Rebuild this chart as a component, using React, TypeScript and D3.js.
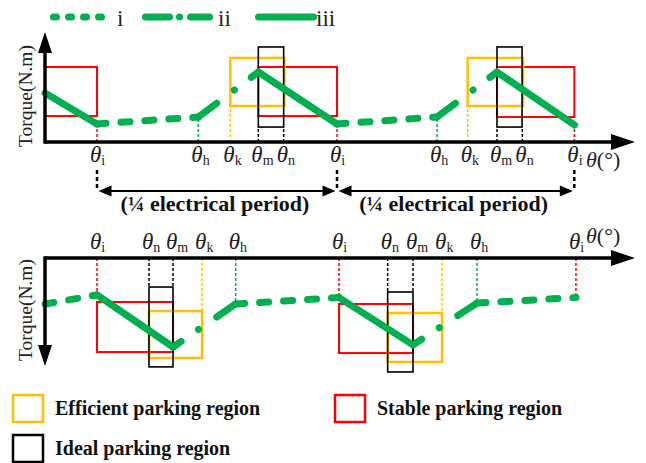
import React from "react";
import * as d3 from "d3";

// ---------- data ----------
const topTickLabels = ["i", "h", "k", "m", "n", "i", "h", "k", "m", "n", "i"];
const topTickDeg = [0, 38, 50, 60.5, 70, 90, 127.5, 139, 150, 159.5, 179];
const topGuideEnd = [1.64, 2.27, 3.27, 1.36, 1.36, 1.64, 2.27, 3.27, 1.36, 1.36, 1.55];

const bottomTickLabels = ["i", "n", "m", "k", "h", "i", "n", "m", "k", "h", "i"];
const bottomTickDeg = [0, 19.5, 28.5, 39.4, 52, 90.75, 109, 118.5, 129.4, 142.5, 179.6];
const bottomGuideEnd = [-3.36, -2.64, -2.64, -4.82, -4.18, -3.6, -3.09, -3.09, -5.0, -4.1, -3.6];

const topCurveDeg = [-19.5, 0, 38, 60.5, 90, 127.5, 150, 179];
const topCurveTorque = [4.45, 1.64, 2.27, 6.36, 1.64, 2.27, 6.36, 1.55];
const topSegType = ["iii", "i", "ii", "iii", "i", "ii", "iii"];

const bottomCurveDeg = [-19.5, 0, 28.5, 52, 90.75, 118.5, 142.5, 179.6];
const bottomCurveTorque = [-4.18, -3.36, -8.09, -4.18, -3.6, -7.9, -4.1, -3.6];
const bottomSegType = ["i", "iii", "ii", "i", "iii", "ii", "i"];

// boxes: [deg0, deg1, torqueA, torqueB]
const topRedBoxes = [[-19.5, 0, 6.82, 2.36], [60.5, 90, 6.82, 2.36], [150, 179, 6.82, 2.27]];
const topYellowBoxes = [[50, 70.3, 7.64, 3.27], [139, 159.8, 7.64, 3.27]];
const topBlackBoxes = [[60.5, 70, 8.64, 1.36], [150, 159.4, 8.64, 1.36]];

const bottomRedBoxes = [[0, 28.5, -4.0, -8.55], [90.75, 118.5, -4.18, -8.64]];
const bottomYellowBoxes = [[19.5, 39.4, -4.82, -9.09], [109, 129.4, -5.0, -9.45]];
const bottomBlackBoxes = [[19.5, 28.5, -2.64, -9.9], [109, 118.5, -3.09, -10.36]];

const periodSpans = [[0, 90], [90, 179]];
const periodLabel = "(¼ electrical period)";
const legendLines = ["i", "ii", "iii"];
const legendBoxes = ["Efficient parking region", "Stable parking region", "Ideal parking region"];

// ---------- style ----------
const GREEN = "#00b050";
const RED = "#ff0000";
const ORANGE = "#ffc000";
const SERIF = "'Liberation Serif', 'Times New Roman', serif";
const tickColor: Record<string, string> = { i: RED, h: GREEN, k: ORANGE, m: "#000", n: "#000" };

const x = d3.scaleLinear().domain([0, 90]).range([97, 337]);
const yTop = d3.scaleLinear().domain([0, 10]).range([142, 32]);
const yBot = d3.scaleLinear().domain([0, -10]).range([258, 368]);
const line = d3.line<[number, number]>();

function segDash(t: string) {
  if (t === "i") return "9,15";
  if (t === "ii") return "23,22,0.1,21,60";
  return undefined;
}

function Curve({ degs, vals, types, y }: { degs: number[]; vals: number[]; types: string[]; y: any }) {
  return (
    <g>
      {types.map((t, i) => {
        let p0: [number, number] = [x(degs[i]), y(vals[i])];
        let p1: [number, number] = [x(degs[i + 1]), y(vals[i + 1])];
        // dash-dot segments start from the theta_h end (smaller |torque|)
        if (t === "ii" && Math.abs(vals[i]) > Math.abs(vals[i + 1])) {
          const tmp = p0; p0 = p1; p1 = tmp;
        }
        return (
          <path key={i} d={line([p0, p1]) || ""} fill="none" stroke={GREEN} strokeWidth={7}
            strokeLinecap="round" strokeDasharray={segDash(t)} />
        );
      })}
    </g>
  );
}

function Boxes({ boxes, color, width, y }: { boxes: number[][]; color: string; width: number; y: any }) {
  return (
    <g>
      {boxes.map((b, i) => {
        const x0 = x(b[0]), x1 = x(b[1]);
        const ya = y(b[2]), yb = y(b[3]);
        return (
          <rect key={i} x={Math.min(x0, x1)} y={Math.min(ya, yb)} width={Math.abs(x1 - x0)}
            height={Math.abs(yb - ya)} fill="none" stroke={color} strokeWidth={width} />
        );
      })}
    </g>
  );
}

function TickLabel({ xp, yp, sub }: { xp: number; yp: number; sub: string }) {
  return (
    <text x={xp - 7} y={yp} fontFamily={SERIF} fontSize={23} fill="#222">
      <tspan fontStyle="italic">θ</tspan>
      <tspan fontSize={14} dy={3}>{sub}</tspan>
    </text>
  );
}

export default function App() {
  return (
    <svg width={646} height={463} style={{ position: "absolute", left: 0, top: 0 }}>
      <rect width={646} height={463} fill="#fff" />

      {/* ===== top legend ===== */}
      <g>
        <line x1={53.5} x2={106.5} y1={17} y2={17} stroke={GREEN} strokeWidth={7} strokeLinecap="round" strokeDasharray="3,12" />
        <line x1={145.5} x2={209.5} y1={17} y2={17} stroke={GREEN} strokeWidth={7} strokeLinecap="round" strokeDasharray="24,10,0.1,11,19" />
        <line x1={258.5} x2={313.5} y1={17} y2={17} stroke={GREEN} strokeWidth={7} strokeLinecap="round" />
        {legendLines.map((t, i) => (
          <text key={t} x={[117, 218, 316][i]} y={26} fontFamily={SERIF} fontSize={23} fill="#222">{t}</text>
        ))}
      </g>

      {/* ===== top panel ===== */}
      <Boxes boxes={topRedBoxes} color={RED} width={2} y={yTop} />
      <Boxes boxes={topYellowBoxes} color={ORANGE} width={2.5} y={yTop} />
      <Boxes boxes={topBlackBoxes} color="#000" width={1.6} y={yTop} />
      {topTickDeg.map((d, i) => (
        <line key={i} x1={x(d)} x2={x(d)} y1={yTop(0)} y2={yTop(topGuideEnd[i])}
          stroke={tickColor[topTickLabels[i]]} strokeWidth={1.5} strokeDasharray="3,2" />
      ))}
      <Curve degs={topCurveDeg} vals={topCurveTorque} types={topSegType} y={yTop} />
      {/* axes */}
      <line x1={45} x2={612} y1={yTop(0)} y2={yTop(0)} stroke="#000" strokeWidth={3.5} />
      <path d={`M611,${yTop(0) - 8}L635,${yTop(0)}L611,${yTop(0) + 8}Z`} fill="#000" />
      <line x1={45} x2={45} y1={yTop(0) + 1.7} y2={50} stroke="#000" strokeWidth={3.5} />
      <path d="M38,53L45,32L52,53Z" fill="#000" />
      <text transform="translate(32,96) rotate(-90)" textAnchor="middle" fontFamily={SERIF} fontSize={19.5} fill="#222">Torque(N.m)</text>
      {topTickDeg.map((d, i) => (
        <TickLabel key={i} xp={x(d)} yp={162} sub={topTickLabels[i]} />
      ))}
      <text x={586} y={167} fontFamily={SERIF} fontSize={22} fill="#222">
        <tspan fontStyle="italic">θ</tspan>(°)
      </text>

      {/* quarter period annotation */}
      {[0, 90, 179].map((d) => (
        <line key={d} x1={x(d)} x2={x(d)} y1={170} y2={191} stroke="#000" strokeWidth={2.5} strokeDasharray="4,3" />
      ))}
      {periodSpans.map(([a, b], i) => {
        const xa = x(a) + 1.5, xb = x(b) - 1.5;
        return (
          <g key={i}>
            <line x1={xa + 10} x2={xb - 10} y1={191} y2={191} stroke="#000" strokeWidth={2} />
            <path d={`M${xa},191L${xa + 13},185.5L${xa + 13},196.5Z`} fill="#000" />
            <path d={`M${xb},191L${xb - 13},185.5L${xb - 13},196.5Z`} fill="#000" />
            <text x={(x(a) + x(b)) / 2 - 2} y={211} textAnchor="middle" fontFamily={SERIF}
              fontWeight="bold" fontSize={22} fill="#111">{periodLabel}</text>
          </g>
        );
      })}

      {/* ===== bottom panel ===== */}
      <Boxes boxes={bottomRedBoxes} color={RED} width={2} y={yBot} />
      <Boxes boxes={bottomYellowBoxes} color={ORANGE} width={2.5} y={yBot} />
      <Boxes boxes={bottomBlackBoxes} color="#000" width={1.6} y={yBot} />
      {bottomTickDeg.map((d, i) => (
        <line key={i} x1={x(d)} x2={x(d)} y1={yBot(0)} y2={yBot(bottomGuideEnd[i])}
          stroke={tickColor[bottomTickLabels[i]]} strokeWidth={1.5} strokeDasharray="3,2" />
      ))}
      <Curve degs={bottomCurveDeg} vals={bottomCurveTorque} types={bottomSegType} y={yBot} />
      <line x1={45} x2={612} y1={yBot(0)} y2={yBot(0)} stroke="#000" strokeWidth={3.5} />
      <path d={`M611,${yBot(0) - 8}L635,${yBot(0)}L611,${yBot(0) + 8}Z`} fill="#000" />
      <line x1={45} x2={45} y1={yBot(0) - 1.7} y2={348} stroke="#000" strokeWidth={3.5} />
      <path d="M38,345L45,366L52,345Z" fill="#000" />
      <text transform="translate(32,310) rotate(-90)" textAnchor="middle" fontFamily={SERIF} fontSize={19.5} fill="#222">Torque(N.m)</text>
      {bottomTickDeg.map((d, i) => (
        <TickLabel key={i} xp={x(d)} yp={249} sub={bottomTickLabels[i]} />
      ))}
      <text x={586} y={243} fontFamily={SERIF} fontSize={22} fill="#222">
        <tspan fontStyle="italic">θ</tspan>(°)
      </text>

      {/* ===== bottom legend ===== */}
      {legendBoxes.map((t, i) => {
        const lx = i === 1 ? 335 : 13;
        const ly = i === 2 ? 435 : 395;
        const col = i === 0 ? ORANGE : i === 1 ? RED : "#000";
        return (
          <g key={t}>
            <rect x={lx} y={ly} width={30} height={27} fill="none" stroke={col} strokeWidth={2.5} />
            <text x={lx + 42} y={ly + 20} fontFamily={SERIF} fontWeight="bold" fontSize={20} fill="#111">{t}</text>
          </g>
        );
      })}
    </svg>
  );
}
